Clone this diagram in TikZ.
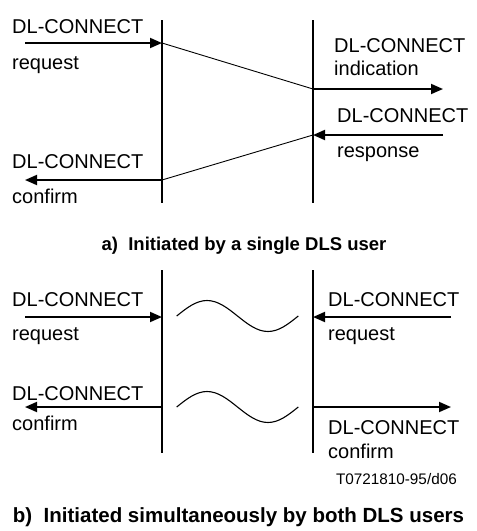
\documentclass[tikz,border=0pt]{standalone}
\usepackage{fontspec}
\setmainfont{Liberation Sans}
\newfontfamily\plainfont{Liberation Sans}
\usetikzlibrary{arrows.meta}
\tikzset{
rail/.style  = {line width=1.8pt},
msg/.style   = {line width=1.8pt, ->},
slant/.style = {line width=0.9pt},
wave/.style  = {line width=1.1pt},
lbl/.style   = {anchor=base west, inner sep=0pt, font=\fontsize{20}{22}\selectfont},
tag/.style   = {anchor=base east, inner sep=0pt, font=\plainfont\fontsize{15.3}{17}\selectfont},
capa/.style  = {anchor=base, inner sep=0pt, font=\plainfont\bfseries\fontsize{18.5}{20}\selectfont},
capb/.style  = {anchor=base, inner sep=0pt, font=\plainfont\bfseries\fontsize{20.5}{22}\selectfont},
tmp/.style   = {coordinate}
}

\begin{document}
\begin{tikzpicture}[x=1pt, y=-1pt, >={Triangle[length=12pt,width=10pt]}]
  \useasboundingbox (0,0) rectangle (477,531);

  % a) one user starts
  \node [tmp] (aLtop)  at (162,20)  {};
  \node [tmp] (aLbot)  at (162,203) {};
  \node [tmp] (aRtop)  at (313,20)  {};
  \node [tmp] (aRbot)  at (313,203) {};
  \node [tmp] (reqIn)  at (25,43)   {};
  \node [tmp] (reqHit) at (162,43)  {};
  \node [tmp] (indHit) at (313,89)  {};
  \node [tmp] (indOut) at (443,89)  {};
  \node [tmp] (rspIn)  at (443,135) {};
  \node [tmp] (rspHit) at (313,135) {};
  \node [tmp] (cnfHit) at (162,180) {};
  \node [tmp] (cnfOut) at (25,180)  {};

  \node [lbl] (reqA) at (12,33)   {DL-CONNECT};
  \node [lbl] (reqB) at (12,69)   {request};
  \node [lbl] (indA) at (334,52)  {DL-CONNECT};
  \node [lbl] (indB) at (334,75)  {indication};
  \node [lbl] (rspA) at (337,122) {DL-CONNECT};
  \node [lbl] (rspB) at (337,157) {response};
  \node [lbl] (cnfA) at (12,168)  {DL-CONNECT};
  \node [lbl] (cnfB) at (12,203)  {confirm};

  \draw [rail] (aLtop) -- (aLbot);
  \draw [rail] (aRtop) -- (aRbot);
  \draw [msg] (reqIn) -- (reqHit);
  \draw [slant] (reqHit) -- (indHit);
  \draw [msg] (indHit) -- (indOut);
  \draw [msg] (rspIn) -- (rspHit);
  \draw [slant] (rspHit) -- (cnfHit);
  \draw [msg] (cnfHit) -- (cnfOut);

  \node [capa] (capA) at (244,250) {a)\ \ Initiated by a single DLS user};

  % b) both users start
  \node [tmp] (bLtop)   at (162,270) {};
  \node [tmp] (bLbot)   at (162,453) {};
  \node [tmp] (bRtop)   at (313,270) {};
  \node [tmp] (bRbot)   at (313,453) {};
  \node [tmp] (lReqIn)  at (25,317)  {};
  \node [tmp] (lReqHit) at (162,317) {};
  \node [tmp] (rReqIn)  at (451,317) {};
  \node [tmp] (rReqHit) at (313,317) {};
  \node [tmp] (lCnfHit) at (162,407) {};
  \node [tmp] (lCnfOut) at (25,407)  {};
  \node [tmp] (rCnfHit) at (313,407) {};
  \node [tmp] (rCnfOut) at (451,407) {};

  \node [lbl] (lReqA) at (12,306)  {DL-CONNECT};
  \node [lbl] (lReqB) at (12,340)  {request};
  \node [lbl] (rReqA) at (328,306) {DL-CONNECT};
  \node [lbl] (rReqB) at (328,340) {request};
  \node [lbl] (lCnfA) at (12,400)  {DL-CONNECT};
  \node [lbl] (lCnfB) at (12,430)  {confirm};
  \node [lbl] (rCnfA) at (328,434) {DL-CONNECT};
  \node [lbl] (rCnfB) at (328,458) {confirm};

  \draw [rail] (bLtop) -- (bLbot);
  \draw [rail] (bRtop) -- (bRbot);
  \draw [msg] (lReqIn) -- (lReqHit);
  \draw [msg] (rReqIn) -- (rReqHit);
  \draw [msg] (lCnfHit) -- (lCnfOut);
  \draw [msg] (rCnfHit) -- (rCnfOut);

  \draw [wave] (176.7,316) sin (207,300.5) cos (237.5,316) sin (268,331.5) cos (298.3,316);
  \draw [wave] (176.7,407) sin (207,391.5) cos (237.5,407) sin (268,422.5) cos (298.3,407);

  \node [tag]  (tag)  at (457,484) {T0721810-95/d06};
  \node [capb] (capB) at (238.5,522) {b)\ \ Initiated simultaneously by both DLS users};
\end{tikzpicture}
\end{document}
